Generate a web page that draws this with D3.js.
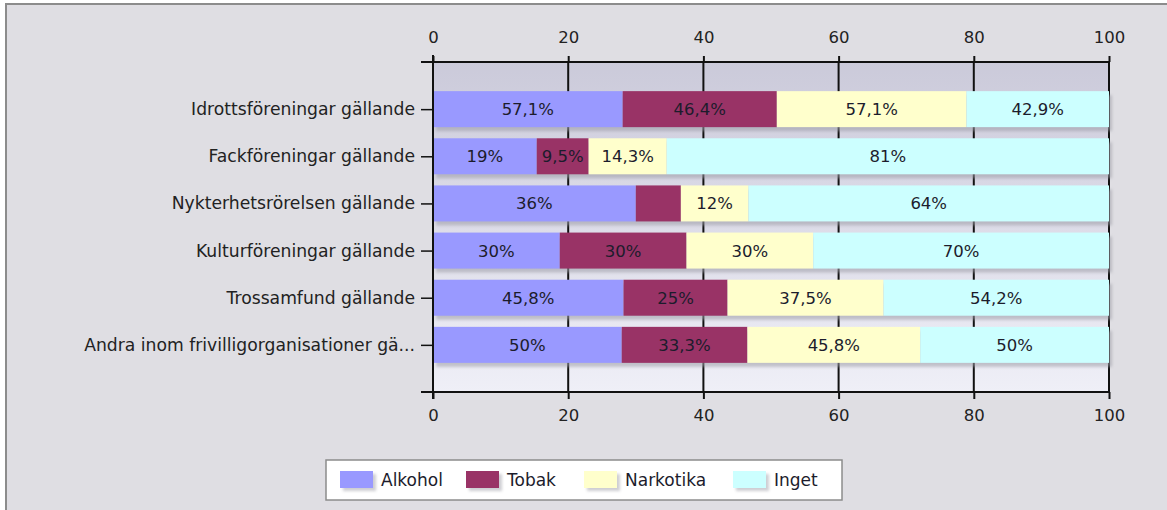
<!DOCTYPE html>
<html>
<head>
<meta charset="utf-8">
<script src="https://cdn.jsdelivr.net/npm/d3@7"></script>
<style>
  html, body { margin: 0; padding: 0; background: #fff; }
  svg { display: block; font-family: "DejaVu Sans", Verdana, sans-serif; }
</style>
</head>
<body>
<svg id="chart" width="1167" height="510"></svg>
<script>
// categories, top to bottom
const categories = [
  "Idrottsföreningar gällande",
  "Fackföreningar gällande",
  "Nykterhetsrörelsen gällande",
  "Kulturföreningar gällande",
  "Trossamfund gällande",
  "Andra inom frivilligorganisationer gä..."
];
const seriesNames = ["Alkohol", "Tobak", "Narkotika", "Inget"];
const seriesColors = ["#9999ff", "#993366", "#ffffcc", "#ccffff"];

// raw percentages per series (bars are normalised to 100)
const alkohol   = [57.1, 19, 36, 30, 45.8, 50];
const tobak     = [46.4, 9.5, 8, 30, 25, 33.3];
const narkotika = [57.1, 14.3, 12, 30, 37.5, 45.8];
const inget     = [42.9, 81, 64, 70, 54.2, 50];

// labels not printed in the original (category index, series index)
const hiddenLabels = [[2, 1]];
const xTicks = [0, 20, 40, 60, 80, 100];

const svg = d3.select("#chart");
const W = 1167, H = 510;

const defs = svg.append("defs");
const grad = defs.append("linearGradient")
  .attr("id", "plotBg").attr("x1", 0).attr("y1", 0).attr("x2", 0).attr("y2", 1);
grad.append("stop").attr("offset", "0%").attr("stop-color", "#cbcada");
grad.append("stop").attr("offset", "100%").attr("stop-color", "#efeff7");

const blur = defs.append("filter").attr("id", "shadow")
  .attr("x", "-10%").attr("y", "-20%").attr("width", "130%").attr("height", "160%");
blur.append("feGaussianBlur").attr("stdDeviation", 1.5);

// outer frame
svg.append("rect")
  .attr("x", 6).attr("y", 4)
  .attr("width", W + 10).attr("height", H + 10)
  .attr("fill", "#dfdee3")
  .attr("stroke", "#8c8c8c")
  .attr("stroke-width", 2);

const plotL = 433, plotR = 1109, plotT = 62, plotB = 392;

const x = d3.scaleLinear().domain([0, 100]).range([plotL, plotR]);
const y = d3.scalePoint().domain(categories).range([plotT, plotB]).padding(1);
const barH = 36;

// plot background
svg.append("rect")
  .attr("x", plotL).attr("y", plotT)
  .attr("width", plotR - plotL).attr("height", plotB - plotT)
  .attr("fill", "url(#plotBg)");

// vertical grid lines
svg.append("g")
  .selectAll("line")
  .data(xTicks.slice(1))
  .join("line")
  .attr("x1", d => x(d)).attr("x2", d => x(d))
  .attr("y1", plotT).attr("y2", plotB)
  .attr("stroke", "#111")
  .attr("stroke-width", 2);

// stack data
const table = categories.map((c, i) => {
  const vals = [alkohol[i], tobak[i], narkotika[i], inget[i]];
  const total = d3.sum(vals);
  const row = { cat: c, idx: i };
  seriesNames.forEach((s, j) => {
    row[s] = vals[j] / total * 100;
    row[s + "_raw"] = vals[j];
  });
  return row;
});
const stacked = d3.stack().keys(seriesNames)(table);

// bar shadows
svg.append("g")
  .selectAll("rect")
  .data(table)
  .join("rect")
  .attr("x", plotL + 3)
  .attr("y", d => y(d.cat) - barH / 2 + 4)
  .attr("width", plotR - plotL)
  .attr("height", barH)
  .attr("fill", "#9c9ca6")
  .attr("opacity", 0.55)
  .attr("filter", "url(#shadow)");

const fmt = d3.formatLocale({ decimal: ",", thousands: " ", grouping: [3], currency: ["", ""] }).format("~f");

stacked.forEach((layer, j) => {
  const g = svg.append("g");
  g.selectAll("rect")
    .data(layer)
    .join("rect")
    .attr("x", d => x(d[0]))
    .attr("y", d => y(d.data.cat) - barH / 2)
    .attr("width", d => x(d[1]) - x(d[0]))
    .attr("height", barH)
    .attr("fill", seriesColors[j]);

  g.selectAll("text")
    .data(layer.filter(d => !hiddenLabels.some(h => h[0] === d.data.idx && h[1] === j)))
    .join("text")
    .attr("x", d => (x(d[0]) + x(d[1])) / 2)
    .attr("y", d => y(d.data.cat))
    .attr("dy", "0.36em")
    .attr("text-anchor", "middle")
    .style("font-size", "16.5px")
    .attr("fill", "#1c1c2c")
    .text(d => fmt(d.data[layer.key + "_raw"]) + "%");
});

// axes (d3 sets font attrs on the axis group, drop them so the svg font applies)
const tickFont = (g, size) => {
  g.attr("font-family", null).attr("font-size", null);
  g.selectAll("text").style("font-size", size).attr("fill", "#222");
};

const xTop = svg.append("g")
  .attr("transform", `translate(0,${plotT})`)
  .call(d3.axisTop(x).tickValues(xTicks).tickSize(6).tickPadding(13));
const xBot = svg.append("g")
  .attr("transform", `translate(0,${plotB})`)
  .call(d3.axisBottom(x).tickValues(xTicks).tickSize(7).tickPadding(10));
[xTop, xBot].forEach(g => {
  g.select(".domain").remove();
  g.selectAll(".tick line").attr("stroke", "#111").attr("stroke-width", 2);
  tickFont(g, "16.5px");
});
// horizontal axis lines
[plotT, plotB].forEach(yy => {
  svg.append("line")
    .attr("x1", plotL - 12).attr("x2", plotR + 1)
    .attr("y1", yy).attr("y2", yy)
    .attr("stroke", "#111").attr("stroke-width", 2);
});

const yAxis = svg.append("g")
  .attr("transform", `translate(${plotL},0)`)
  .call(d3.axisLeft(y).tickSize(12).tickPadding(6));
yAxis.select(".domain").remove();
yAxis.selectAll(".tick line").attr("stroke", "#111").attr("stroke-width", 1.5);
tickFont(yAxis, "17.2px");
svg.append("line")
  .attr("x1", plotL).attr("x2", plotL)
  .attr("y1", plotT - 7).attr("y2", plotB + 7)
  .attr("stroke", "#111").attr("stroke-width", 2);

// legend
const lgX = 326, lgY = 460, lgW = 516, lgH = 40;
const legend = svg.append("g");
legend.append("rect")
  .attr("x", lgX).attr("y", lgY)
  .attr("width", lgW).attr("height", lgH)
  .attr("fill", "#fff")
  .attr("stroke", "#8c8c8c")
  .attr("stroke-width", 1.5);

const itemX = [340, 466, 584, 733];
const item = legend.selectAll("g.item")
  .data(seriesNames)
  .join("g")
  .attr("class", "item")
  .attr("transform", (d, i) => `translate(${itemX[i]},${lgY + 11})`);
item.append("rect")
  .attr("x", 3).attr("y", 3)
  .attr("width", 33).attr("height", 17)
  .attr("fill", "#9c9ca6").attr("opacity", 0.5)
  .attr("filter", "url(#shadow)");
item.append("rect")
  .attr("width", 33).attr("height", 17)
  .attr("fill", (d, i) => seriesColors[i]);
item.append("text")
  .attr("x", 41).attr("y", 8.5)
  .attr("dy", "0.36em")
  .style("font-size", "17px")
  .attr("fill", "#1c1c2c")
  .text(d => d);
</script>
</body>
</html>
